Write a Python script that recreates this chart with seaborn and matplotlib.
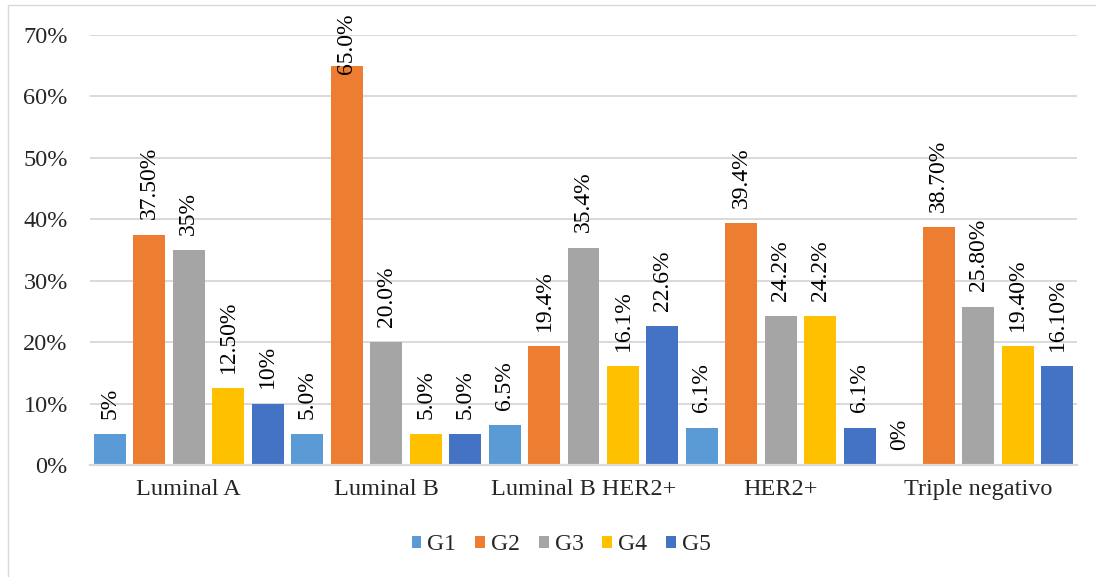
import pandas as pd
import numpy as np
import matplotlib.pyplot as plt
import seaborn as sns
from matplotlib.patches import Rectangle
from matplotlib.ticker import PercentFormatter

# data
categories = ['Luminal A', 'Luminal B', 'Luminal B HER2+', 'HER2+', 'Triple negativo']
groups = ['G1', 'G2', 'G3', 'G4', 'G5']
g1 = [0.05, 0.05, 0.065, 0.061, 0.0]
g2 = [0.375, 0.65, 0.194, 0.394, 0.387]
g3 = [0.35, 0.20, 0.354, 0.242, 0.258]
g4 = [0.125, 0.05, 0.161, 0.242, 0.194]
g5 = [0.10, 0.05, 0.226, 0.061, 0.161]
g1_labels = ['5%', '5.0%', '6.5%', '6.1%', '0%']
g2_labels = ['37.50%', '65.0%', '19.4%', '39.4%', '38.70%']
g3_labels = ['35%', '20.0%', '35.4%', '24.2%', '25.80%']
g4_labels = ['12.50%', '5.0%', '16.1%', '24.2%', '19.40%']
g5_labels = ['10%', '5.0%', '22.6%', '6.1%', '16.10%']
colors = ['#5B9BD5', '#ED7D31', '#A5A5A5', '#FFC000', '#4472C4']

df = pd.DataFrame({
    'Category': categories * 5,
    'Group': np.repeat(groups, len(categories)),
    'Value': g1 + g2 + g3 + g4 + g5,
})
all_labels = [g1_labels, g2_labels, g3_labels, g4_labels, g5_labels]

sns.set_style('white')
plt.rcParams['font.family'] = ['Liberation Serif', 'DejaVu Serif']
plt.rcParams['font.size'] = 17

fig = plt.figure(figsize=(10.96, 5.77), dpi=100)
ax = fig.add_axes([90 / 1096, 1 - 465 / 577, 987 / 1096, 430 / 577])

sns.barplot(data=df, x='Category', y='Value', hue='Group', palette=colors,
            width=1.0, gap=0.19, linewidth=0, saturation=1, ax=ax)

ax.set_ylim(0, 0.7)
ax.set_yticks(np.arange(0, 0.71, 0.1))
ax.yaxis.set_major_formatter(PercentFormatter(1.0, decimals=0))
ax.set_xlabel('')
ax.set_ylabel('')
ax.grid(axis='y', color='#d9d9d9', linewidth=1.4)
ax.set_axisbelow(True)
for s in ['left', 'right', 'top']:
    ax.spines[s].set_visible(False)
ax.spines['bottom'].set_color('#d9d9d9')
ax.spines['bottom'].set_linewidth(1.6)
ax.tick_params(axis='y', length=0, pad=16, labelsize=17.5)
ax.tick_params(axis='x', length=0, pad=10, labelsize=17.5)

# data labels, rotated like in the original
anns = []
for cont, labs in zip(ax.containers, all_labels):
    anns += ax.bar_label(cont, labels=labs, rotation=90, padding=11, fontsize=17, color='black')

sns.move_legend(ax, 'center', bbox_to_anchor=(0.512, 1 - 545 / 577),
                bbox_transform=fig.transFigure, ncol=5, frameon=False, title=None,
                fontsize=17, handlelength=0.42, handleheight=0.42,
                handletextpad=0.25, columnspacing=0.8)

# labels that run past the chart top get pushed down (like excel does)
fig.canvas.draw()
r = fig.canvas.get_renderer()
top_px = fig.bbox.height - 14
for a in anns:
    bb = a.get_window_extent(r)
    if bb.y1 > top_px:
        over = (bb.y1 - top_px) * 72 / fig.dpi
        a.xyann = (a.xyann[0], a.xyann[1] - over)

# chart area border (cropped on the right and bottom)
fig.patches.append(Rectangle((8 / 1096, -0.5), 1.5, 0.5 + 1 - 5 / 577,
                             transform=fig.transFigure, fill=False,
                             edgecolor='#d9d9d9', linewidth=1.0))

fig.savefig('out.png', dpi=100)
